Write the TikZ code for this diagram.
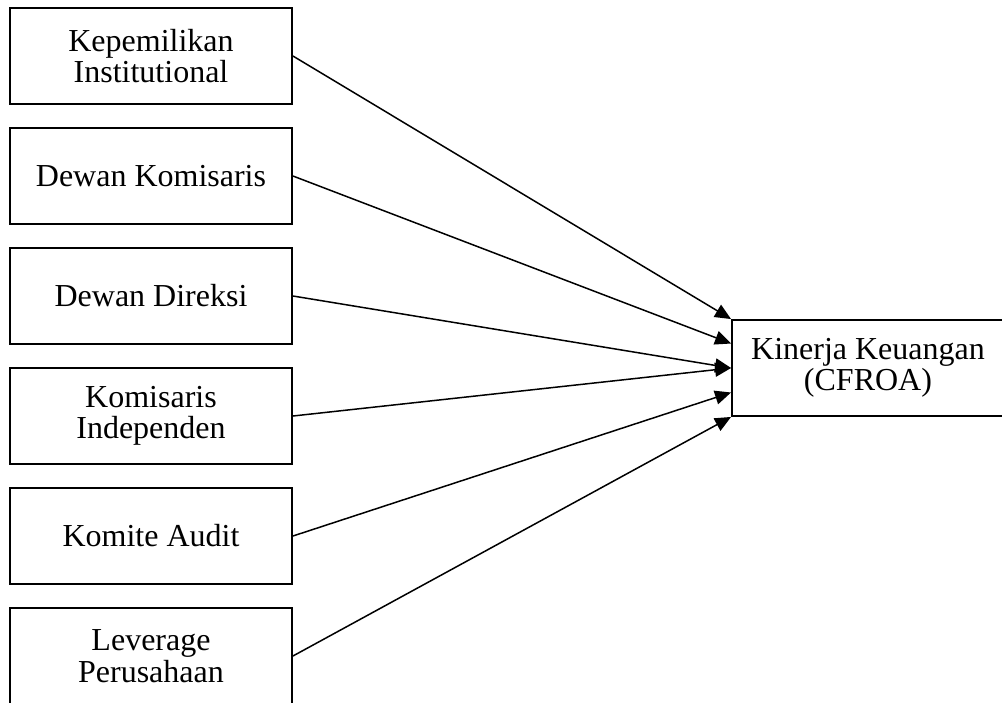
\documentclass[tikz,border=0pt]{standalone}
\usepackage{fontspec}
\setmainfont{Liberation Serif}
\usetikzlibrary{arrows.meta,calc}
\begin{document}
\begin{tikzpicture}[x=1pt,y=-1pt,
  varbox/.style={draw, line width=1.9pt, rectangle, minimum width=282pt, minimum height=96pt,
    inner sep=0pt, align=center, font=\fontsize{32}{31.5}\selectfont},
  link/.style={line width=1.5pt, -{Triangle[length=16pt,width=14pt]}}]
\useasboundingbox (0,0) rectangle (1002,702);
\node[varbox] (a) at (151,56) {Kepemilikan\\Institutional};
\node[varbox] (b) at (151,176) {Dewan Komisaris};
\node[varbox] (c) at (151,296) {Dewan Direksi};
\node[varbox] (d) at (151,416) {Komisaris\\Independen};
\node[varbox] (e) at (151,536) {Komite Audit};
\node[varbox] (f) at (151,656) {Leverage\\Perusahaan};
\node[varbox, minimum width=272pt] (k) at (868,368) {Kinerja Keuangan\\(CFROA)};
\coordinate (t1) at (k.north west);
\coordinate (t2) at ($(k.north west)!0.25!(k.south west)$);
\coordinate (t3) at (k.west);
\coordinate (t5) at ($(k.north west)!0.75!(k.south west)$);
\coordinate (t6) at (k.south west);
\draw[link] (a.east) -- (t1);
\draw[link] (b.east) -- (t2);
\draw[link] (c.east) -- (t3);
\draw[link] (d.east) -- (t3);
\draw[link] (e.east) -- (t5);
\draw[link] (f.east) -- (t6);
\end{tikzpicture}
\end{document}
